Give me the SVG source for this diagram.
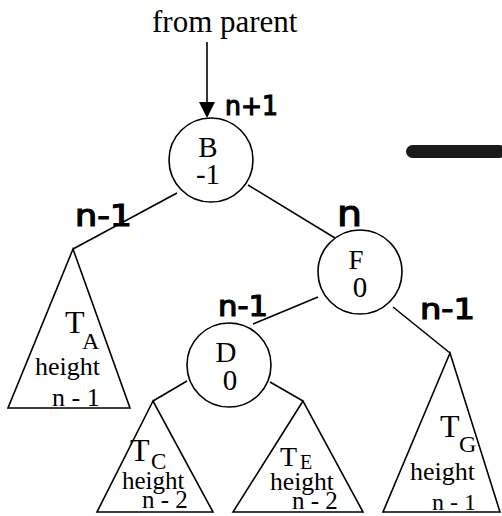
<svg xmlns="http://www.w3.org/2000/svg" width="502" height="516" viewBox="0 0 502 516">
<style>
.s{font-family:"Liberation Serif","Times New Roman",serif;fill:#000}
.h{font-family:"DejaVu Sans","Liberation Sans",sans-serif;fill:#000;stroke:#000;stroke-width:1.2}
.ln{stroke:#000;stroke-width:1.6;fill:none}
.nd{stroke:#000;stroke-width:1.6;fill:#fff}
</style>
<rect width="502" height="516" fill="#fff"/>
<text class="s" x="152" y="32" font-size="31">from parent</text>
<rect x="406" y="145" width="100" height="13" rx="6.5" fill="#1a1a1a"/>
<g id="connectors">
<line class="ln" x1="207" y1="42" x2="207" y2="103"/>
<path d="M199,102 L215,102 L207,118 Z" fill="#000"/>
<line class="ln" x1="177" y1="193" x2="73" y2="249"/>
<line class="ln" x1="248" y1="185" x2="335" y2="238"/>
<line class="ln" x1="318" y1="297" x2="253" y2="324"/>
<line class="ln" x1="187" y1="381" x2="153" y2="401"/>
<line class="ln" x1="270" y1="382" x2="303" y2="401"/>
<line class="ln" x1="393" y1="307" x2="450" y2="353"/>
</g>
<g id="labels">
<text class="h" x="225" y="115" font-size="26" textLength="53" lengthAdjust="spacingAndGlyphs">n+1</text>
<text class="h" x="75" y="226" font-size="30" textLength="57" lengthAdjust="spacingAndGlyphs">n-1</text>
<text class="h" x="337" y="226" font-size="36" textLength="25" lengthAdjust="spacingAndGlyphs">n</text>
<text class="h" x="218" y="316" font-size="28" textLength="50" lengthAdjust="spacingAndGlyphs">n-1</text>
<text class="h" x="420" y="319" font-size="28" textLength="55" lengthAdjust="spacingAndGlyphs">n-1</text>
</g>
<g id="B">
<circle class="nd" cx="211" cy="160" r="42"/>
<text class="s" x="208" y="157" font-size="29" text-anchor="middle">B</text>
<text class="s" x="208" y="184" font-size="29" text-anchor="middle">-1</text>
</g>
<g id="F">
<circle class="nd" cx="360" cy="272" r="42"/>
<text class="s" x="356" y="269" font-size="27" text-anchor="middle">F</text>
<text class="s" x="360" y="297" font-size="29" text-anchor="middle">0</text>
</g>
<g id="D">
<circle class="nd" cx="229" cy="365" r="42"/>
<text class="s" x="226" y="362" font-size="29" text-anchor="middle">D</text>
<text class="s" x="230" y="390" font-size="29" text-anchor="middle">0</text>
</g>
<g id="TA">
<path class="ln" d="M73,249 L8,408 L130,408 Z"/>
<text class="s" x="65" y="333" font-size="32">T</text>
<text class="s" x="82" y="349" font-size="24">A</text>
<text class="s" x="35" y="375" font-size="26">height</text>
<text class="s" x="52" y="406" font-size="26">n - 1</text>
</g>
<g id="TC">
<path class="ln" d="M153,401 L97,512 L213,512 Z"/>
<text class="s" x="130" y="461" font-size="32">T</text>
<text class="s" x="151" y="469" font-size="23">C</text>
<text class="s" x="122" y="489" font-size="25">height</text>
<text class="s" x="142" y="508" font-size="25">n - 2</text>
</g>
<g id="TE">
<path class="ln" d="M303,401 L233,512 L363,512 Z"/>
<text class="s" x="280" y="466" font-size="28">T</text>
<text class="s" x="300" y="469" font-size="20">E</text>
<text class="s" x="270" y="490" font-size="25.6">height</text>
<text class="s" x="292" y="509" font-size="25">n - 2</text>
</g>
<g id="TG">
<path class="ln" d="M450,353 L383,512 L500,512 Z"/>
<text class="s" x="440" y="437" font-size="32">T</text>
<text class="s" x="459" y="452" font-size="24">G</text>
<text class="s" x="410" y="480" font-size="26">height</text>
<text class="s" x="432" y="510" font-size="24">n - 1</text>
</g>
</svg>
